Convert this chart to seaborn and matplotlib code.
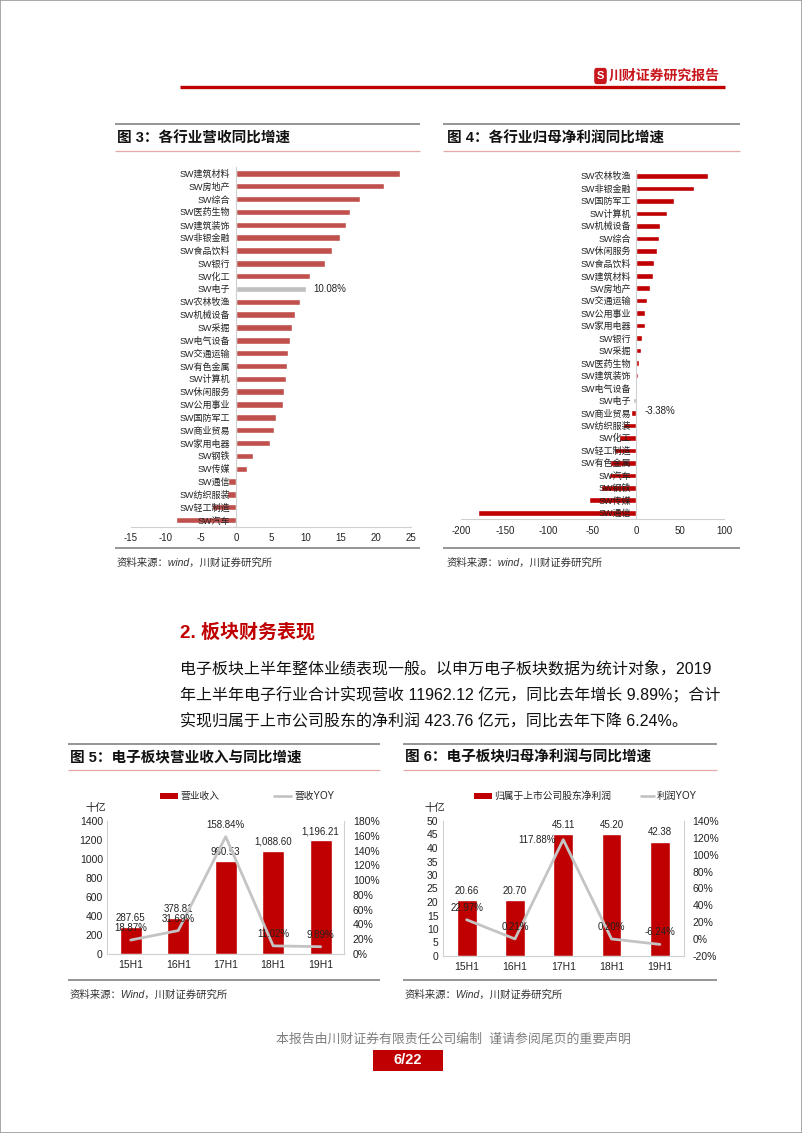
import numpy as np
import pandas as pd
import matplotlib
matplotlib.use('Agg')
import matplotlib.pyplot as plt
import seaborn as sns
from matplotlib.patches import Rectangle, FancyBboxPatch
from matplotlib.lines import Line2D
from matplotlib.ticker import FuncFormatter

# ---------------- data ----------------
rev_industries = ['SW建筑材料', 'SW房地产', 'SW综合', 'SW医药生物', 'SW建筑装饰', 'SW非银金融',
                  'SW食品饮料', 'SW银行', 'SW化工', 'SW电子', 'SW农林牧渔', 'SW机械设备', 'SW采掘',
                  'SW电气设备', 'SW交通运输', 'SW有色金属', 'SW计算机', 'SW休闲服务', 'SW公用事业',
                  'SW国防军工', 'SW商业贸易', 'SW家用电器', 'SW钢铁', 'SW传媒', 'SW通信',
                  'SW纺织服装', 'SW轻工制造', 'SW汽车']
rev_growth = [23.4, 21.2, 17.8, 16.3, 15.8, 14.9, 13.8, 12.7, 10.6, 10.08, 9.1, 8.5, 8.05,
              7.8, 7.4, 7.3, 7.15, 6.9, 6.7, 5.7, 5.5, 4.9, 2.4, 1.6, -1.1, -1.2, -3.4, -8.6]

np_industries = ['SW农林牧渔', 'SW非银金融', 'SW国防军工', 'SW计算机', 'SW机械设备', 'SW综合',
                 'SW休闲服务', 'SW食品饮料', 'SW建筑材料', 'SW房地产', 'SW交通运输', 'SW公用事业',
                 'SW家用电器', 'SW银行', 'SW采掘', 'SW医药生物', 'SW建筑装饰', 'SW电气设备',
                 'SW电子', 'SW商业贸易', 'SW纺织服装', 'SW化工', 'SW轻工制造', 'SW有色金属',
                 'SW汽车', 'SW钢铁', 'SW传媒', 'SW通信']
np_growth = [81.8, 66.0, 42.6, 35.4, 27.0, 25.9, 24.0, 20.5, 18.5, 16.0, 11.8, 9.9, 9.5,
             6.5, 5.4, 3.0, 2.0, 1.0, -3.38, -6.4, -15.0, -20.0, -25.0, -30.0, -31.0,
             -40.6, -54.0, -180.5]

highlight = 'SW电子'

periods = ['15H1', '16H1', '17H1', '18H1', '19H1']
revenue = [287.65, 378.81, 980.53, 1088.60, 1196.21]
revenue_yoy = [18.87, 31.69, 158.84, 11.02, 9.89]
profit = [20.66, 20.70, 45.11, 45.20, 42.38]
profit_yoy = [22.97, 0.21, 117.88, 0.20, -6.24]

# ---------------- style ----------------
W, H = 802, 1133
sns.set_theme(style='white')
FAM = ['Liberation Sans', 'Noto Sans CJK SC', 'DejaVu Sans']
plt.rcParams['font.family'] = FAM
plt.rcParams['axes.unicode_minus'] = False

RED = '#C00000'
RED3 = '#C0504D'
GREY_BAR = '#BFBFBF'
AXC = '#D0D0D0'
TXT = '#222222'

fig = plt.figure(figsize=(W / 100, H / 100), dpi=100)


def rect(x0, y0, x1, y1):
    return [x0 / W, 1 - y1 / H, (x1 - x0) / W, (y1 - y0) / H]


def fx(x):
    return x / W


def fy(y):
    return 1 - y / H


def hline(x0, x1, y, color, lw):
    fig.add_artist(Line2D([fx(x0), fx(x1)], [fy(y), fy(y)], color=color, lw=lw,
                          transform=fig.transFigure, solid_capstyle='butt'))


def ftext(x, y, s, **kw):
    kw.setdefault('va', 'center')
    kw.setdefault('ha', 'left')
    kw.setdefault('color', TXT)
    fig.text(fx(x), fy(y), s, **kw)


# page border
fig.add_artist(Rectangle((0, 0), 1, 1, transform=fig.transFigure, fill=False,
                         edgecolor='#9A9A9A', lw=1.2))

# header
hline(180, 725, 87, '#C00000', 2.4)
fig.add_artist(FancyBboxPatch((fx(595), fy(83)), 11 / W, 14 / H,
                              boxstyle='round,pad=0.001,rounding_size=0.003',
                              transform=fig.transFigure, facecolor='#C8161D', edgecolor='none'))
ftext(600.5, 76, 'S', ha='center', color='white', fontsize=8, fontweight='bold')
ftext(609, 76, '川财证券研究报告', color='#C8161D', fontsize=10, fontweight='bold')


def frame(x0, x1, ytop, ytitle, yred, ybot, ysrc, title, src, xt):
    hline(x0, x1, ytop, '#8C8C8C', 1.3)
    ftext(xt, ytitle, title, fontsize=10.5, fontweight='bold', color='#111111')
    hline(x0, x1, yred, '#E6A8A8', 0.9)
    hline(x0, x1, ybot, '#8C8C8C', 1.3)
    ftext(xt, ysrc, src, fontsize=7.5, color='#333333', style='italic')


frame(115, 420, 124, 139, 151, 548, 563, '图 3：各行业营收同比增速', '资料来源：wind，川财证券研究所', 117)
frame(443, 740, 124, 139, 151, 548, 563, '图 4：各行业归母净利润同比增速', '资料来源：wind，川财证券研究所', 447)
frame(68, 380, 744, 757, 770, 980, 995, '图 5：电子板块营业收入与同比增速', '资料来源：Wind，川财证券研究所', 70)
frame(403, 717, 744, 757, 770, 980, 995, '图 6：电子板块归母净利润与同比增速', '资料来源：Wind，川财证券研究所', 405)


# ---------------- horizontal bar charts ----------------
def hbar(ax, cats, vals, base_color, xlim, xticks, width):
    df = pd.DataFrame({'industry': cats, 'growth': vals})
    pal = {c: (GREY_BAR if c == highlight else base_color) for c in cats}
    sns.barplot(data=df, x='growth', y='industry', hue='industry', palette=pal, legend=False,
                orient='h', width=width, saturation=1, ax=ax)
    ax.set_xlim(*xlim)
    ax.set_ylim(len(cats) - 0.5, -0.5)
    ax.set_xticks(xticks)
    ax.set_xlabel('')
    ax.set_ylabel('')
    for s in ['top', 'right']:
        ax.spines[s].set_visible(False)
    ax.spines['left'].set_position(('data', 0))
    ax.spines['left'].set_color(AXC)
    ax.spines['bottom'].set_color(AXC)
    ax.spines['left'].set_linewidth(0.8)
    ax.spines['bottom'].set_linewidth(0.8)
    ax.set_axisbelow(False)
    ax.tick_params(axis='y', length=0, pad=4, labelsize=6.5, labelcolor=TXT)
    ax.tick_params(axis='x', length=3, width=0.6, color=AXC, direction='out', pad=2,
                   labelsize=7, labelcolor=TXT)
    ax.set_facecolor('none')
    ax.grid(False)


ax3 = fig.add_axes(rect(131, 167, 410.7, 526.5))
hbar(ax3, rev_industries, rev_growth, RED3, (-15, 25), np.arange(-15, 26, 5), 0.5)
i3 = rev_industries.index(highlight)
ax3.annotate(f'{rev_growth[i3]:.2f}%', (rev_growth[i3], i3), xytext=(5, 0),
             textcoords='offset points', ha='left', va='center', fontsize=7, color=TXT)

ax4 = fig.add_axes(rect(461, 169.7, 724, 519))
hbar(ax4, np_industries, np_growth, RED, (-200, 100), np.arange(-200, 101, 50), 0.45)
i4 = np_industries.index(highlight)
ax4.annotate(f'{np_growth[i4]:.2f}%', (0, i4 + 0.85), xytext=(6, 0),
             textcoords='offset points', ha='left', va='center', fontsize=7, color=TXT)

# ---------------- section text ----------------
ftext(180, 632, '2. 板块财务表现', color='#C00000', fontsize=13.7, fontweight='bold')
para = ['电子板块上半年整体业绩表现一般。以申万电子板块数据为统计对象，2019',
        '年上半年电子行业合计实现营收 11962.12 亿元，同比去年增长 9.89%；合计',
        '实现归属于上市公司股东的净利润 423.76 亿元，同比去年下降 6.24%。']
for k, line in enumerate(para):
    ftext(180, 669 + 26.5 * k, line, fontsize=11.5, color='#111111')


# ---------------- combo charts ----------------
def pct(v, _):
    return f'{v * 100:.0f}%'


def combo(rect_px, vals, yoy, ylim, yticks, y2lim, y2ticks, width, fmt, yoy_special):
    ax = fig.add_axes(rect(*rect_px))
    sns.barplot(x=periods, y=vals, color=RED, saturation=1, width=width, ax=ax)
    ax.set_ylim(*ylim)
    ax.set_yticks(yticks)
    ax.set_xlim(-0.5, len(periods) - 0.5)
    ax.bar_label(ax.containers[0], labels=[fmt.format(v) for v in vals], padding=3,
                 fontsize=7, color=TXT)
    ax2 = ax.twinx()
    yy = np.array(yoy) / 100.0
    sns.lineplot(x=np.arange(len(periods)), y=yy, color='#C4C4C4', lw=2.0, ax=ax2)
    ax2.set_ylim(*y2lim)
    ax2.set_yticks(y2ticks)
    ax2.yaxis.set_major_formatter(FuncFormatter(pct))
    ax.set_xlim(-0.5, len(periods) - 0.5)
    for i, v in enumerate(yy):
        if i == yoy_special:
            ax2.annotate(f'{yoy[i]:.2f}%', (i, v), xytext=(-5, 0), textcoords='offset points',
                         ha='right', va='center', fontsize=7, color=TXT)
        else:
            ax2.annotate(f'{yoy[i]:.2f}%', (i, v), xytext=(0, 5), textcoords='offset points',
                         ha='center', va='bottom', fontsize=7, color=TXT)
    for a in (ax, ax2):
        a.set_xlabel('')
        a.set_ylabel('')
        a.grid(False)
        a.spines['top'].set_visible(False)
    ax.spines['right'].set_visible(False)
    ax.spines['left'].set_color(AXC)
    ax.spines['bottom'].set_color(AXC)
    ax2.spines['left'].set_visible(False)
    ax2.spines['bottom'].set_visible(False)
    ax2.spines['right'].set_color(AXC)
    for s in ('left', 'bottom'):
        ax.spines[s].set_linewidth(0.8)
    ax2.spines['right'].set_linewidth(0.8)
    ax.tick_params(axis='both', length=0, labelsize=7.5, labelcolor=TXT)
    ax.tick_params(axis='y', pad=3)
    ax.tick_params(axis='x', pad=4)
    ax2.tick_params(axis='y', length=0, labelsize=7.5, labelcolor=TXT, pad=6)
    ax.set_facecolor('none')
    return ax, ax2


combo((107, 821, 344.4, 954), revenue, revenue_yoy, (0, 1400), np.arange(0, 1401, 200),
      (0, 1.8), np.arange(0, 1.81, 0.2), 0.46, '{:,.2f}', None)
combo((442.5, 821, 684, 956), profit, profit_yoy, (0, 50), np.arange(0, 51, 5),
      (-0.2, 1.4), np.arange(-0.2, 1.41, 0.2), 0.41, '{:.2f}', int(np.argmax(profit_yoy)))

# legends / unit labels
fig.add_artist(Rectangle((fx(160), fy(799)), 18 / W, 6 / H, transform=fig.transFigure,
                         facecolor=RED, edgecolor='none'))
ftext(180, 796, '营业收入', fontsize=7)
hline(273, 292, 796, '#BFBFBF', 1.8)
ftext(294, 796, '营收YOY', fontsize=7)
ftext(85, 808, '十亿', fontsize=7.5)

fig.add_artist(Rectangle((fx(474), fy(799)), 18 / W, 6 / H, transform=fig.transFigure,
                         facecolor=RED, edgecolor='none'))
ftext(494, 796, '归属于上市公司股东净利润', fontsize=7)
hline(640, 655, 796, '#BFBFBF', 1.8)
ftext(657, 796, '利润YOY', fontsize=7)
ftext(424, 808, '十亿', fontsize=7.5)

# footer
ftext(453, 1040, '本报告由川财证券有限责任公司编制  谨请参阅尾页的重要声明', ha='center',
      fontsize=9.3, color='#7F7F7F')
fig.add_artist(Rectangle((fx(373), fy(1071)), 70 / W, 21 / H, transform=fig.transFigure,
                         facecolor='#C00000', edgecolor='none'))
ftext(408, 1060.5, '6/22', ha='center', color='white', fontsize=10.5, fontweight='bold')

fig.savefig('out.png', dpi=100)
